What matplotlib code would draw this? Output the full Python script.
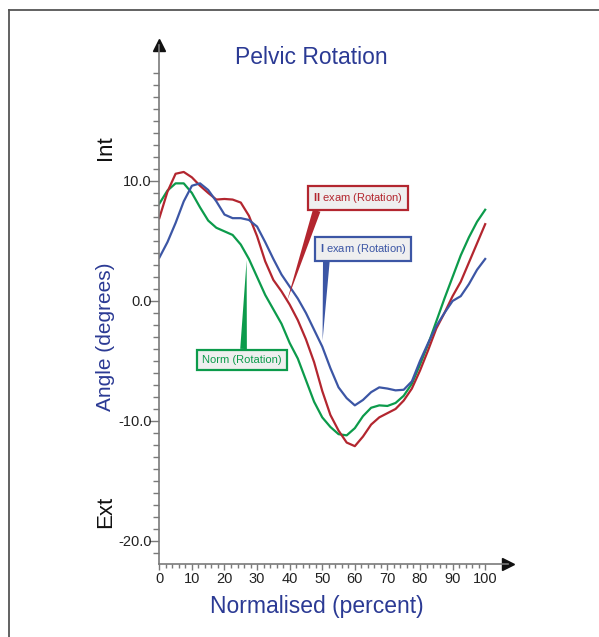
import numpy as np
import matplotlib
matplotlib.use('Agg')
import matplotlib.pyplot as plt
from matplotlib.lines import Line2D
from matplotlib.ticker import FixedLocator

plt.rcParams['font.family'] = ['Liberation Sans', 'DejaVu Sans']
plt.rcParams['mathtext.fontset'] = 'custom'
plt.rcParams['mathtext.rm'] = 'Liberation Sans'
plt.rcParams['mathtext.bf'] = 'Liberation Sans:bold'

# Gait cycle (percent) and pelvic rotation angles (degrees)
pct = np.arange(0, 100.1, 2.5)

exam_2 = [6.9, 9.1, 10.6, 10.75, 10.3, 9.6, 9.0, 8.45, 8.5, 8.45,
          8.2, 7.1, 5.4, 3.3, 1.75, 0.8, -0.3, -1.6, -3.2, -5.1,
          -7.5, -9.5, -10.8, -11.8, -12.1, -11.3, -10.3, -9.7, -9.35, -9.0,
          -8.3, -7.3, -5.8, -4.1, -2.3, -1.0, 0.4, 1.6, 3.2, 4.8, 6.4]

norm = [8.1, 9.2, 9.8, 9.8, 9.0, 7.8, 6.7, 6.1, 5.8, 5.5,
        4.7, 3.5, 2.0, 0.5, -0.7, -1.9, -3.5, -4.8, -6.6, -8.4,
        -9.7, -10.5, -11.1, -11.2, -10.6, -9.6, -8.9, -8.7, -8.75, -8.5,
        -7.9, -6.9, -5.3, -3.6, -1.7, 0.2, 2.0, 3.8, 5.3, 6.6, 7.6]

exam_1 = [3.6, 4.9, 6.5, 8.3, 9.6, 9.8, 9.25, 8.3, 7.2, 6.9,
          6.9, 6.75, 6.2, 4.9, 3.5, 2.2, 1.2, 0.2, -1.0, -2.4,
          -3.8, -5.6, -7.2, -8.1, -8.7, -8.25, -7.6, -7.2, -7.3, -7.45,
          -7.4, -6.7, -5.0, -3.5, -2.1, -1.0, 0.0, 0.4, 1.4, 2.6, 3.5]

y_ticks = [-20, -10, 0, 10]
y_labels = ['-20.0', '-10.0', '0.0', '10.0']
x_ticks = list(range(0, 101, 10))

RED = '#b3262f'
BLUE = '#3c56a5'
GREEN = '#0c9b4b'
TITLE_BLUE = '#2b3a94'
AXIS_GREY = '#7a7a7a'

W, H = 599, 637
fig = plt.figure(figsize=(W / 100, H / 100), dpi=100)

# axes placed so that x=0 sits at px 159 and y grid is 12 px per degree
ax = fig.add_axes([159.3 / W, (H - 564) / H, (508 - 159.3) / W, (564 - 45) / H])
ax.set_xlim(0, 107)
ax.set_ylim(-21.92, 21.33)
ax.patch.set_alpha(0)

ax.plot(pct, norm, color=GREEN, lw=1.6, solid_joinstyle='round')
ax.plot(pct, exam_2, color=RED, lw=1.6, solid_joinstyle='round')
ax.plot(pct, exam_1, color=BLUE, lw=1.6, solid_joinstyle='round')

for side in ['top', 'right']:
    ax.spines[side].set_visible(False)
for side in ['left', 'bottom']:
    ax.spines[side].set_color(AXIS_GREY)
    ax.spines[side].set_linewidth(1.2)

# arrow heads at the axis ends
ax.plot([0], [1], marker='^', ms=9, color='#111111', transform=ax.transAxes, clip_on=False)
ax.plot([1], [0], marker='>', ms=9, color='#111111', transform=ax.transAxes, clip_on=False)

ax.set_yticks(y_ticks)
ax.set_yticklabels(y_labels)
ax.yaxis.set_minor_locator(FixedLocator(np.arange(-21, 20, 1)))
ax.set_xticks(x_ticks)
ax.xaxis.set_minor_locator(FixedLocator(np.arange(0, 101, 2)))
ax.tick_params(axis='y', which='major', length=7, width=1, color=AXIS_GREY, pad=-1.5,
               labelsize=10.5, labelcolor='#222222')
ax.tick_params(axis='y', which='minor', length=4.3, width=1, color=AXIS_GREY)
ax.tick_params(axis='x', which='major', length=4, width=1, color=AXIS_GREY, pad=2,
               labelsize=10.5, labelcolor='#222222')
ax.tick_params(axis='x', which='minor', length=3, width=1, color=AXIS_GREY)


# callouts
def callout(text, xy, xytext, color, relpos, tail):
    ax.annotate(text, xy=xy, xytext=xytext, textcoords='data', color=color,
                fontsize=8, ha='center', va='center',
                bbox=dict(boxstyle='square,pad=0.45', fc='#efefef', ec=color, lw=1.6),
                arrowprops=dict(arrowstyle='wedge,tail_width=%s' % tail, fc=color, ec='none',
                                relpos=relpos, shrinkA=0, shrinkB=0))


callout(r'$\mathbf{II}$ exam (Rotation)', (39.2, 0.0), (61.0, 8.6), RED, (0.06, 0.0), 0.7)
callout(r'$\mathbf{I}$ exam (Rotation)', (50.1, -3.3), (62.5, 4.35), BLUE, (0.08, 0.0), 0.6)
callout('Norm (Rotation)', (26.8, 3.4), (25.3, -4.9), GREEN, (0.52, 1.0), 0.6)

# texts
fig.text(311 / W, 1 - 57 / H, 'Pelvic Rotation', color=TITLE_BLUE, fontsize=16.5,
         ha='center', va='center')
fig.text(317 / W, 1 - 606 / H, 'Normalised (percent)', color=TITLE_BLUE, fontsize=16.5,
         ha='center', va='center')
fig.text(106 / W, 1 - 337 / H, 'Angle (degrees)', color=TITLE_BLUE, fontsize=15,
         rotation=90, ha='center', va='center')
fig.text(106 / W, 1 - 148 / H, 'Int', color='#111111', fontsize=16, rotation=90,
         ha='center', va='center')
fig.text(106 / W, 1 - 512 / H, 'Ext', color='#111111', fontsize=16, rotation=90,
         ha='center', va='center')

# frame (top and left edges only, the rest is cut off)
fig.add_artist(Line2D([9 / W, 1], [1 - 10 / H, 1 - 10 / H], color='#555555', lw=1.3))
fig.add_artist(Line2D([9 / W, 9 / W], [0, 1 - 10 / H], color='#555555', lw=1.3))

fig.savefig('out.png', dpi=100)
